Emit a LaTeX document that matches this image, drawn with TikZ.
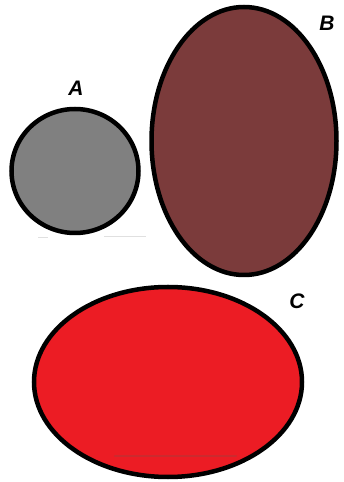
\documentclass[tikz,border=0pt]{standalone}
\usepackage{fontspec}
\setmainfont{Liberation Sans}
\definecolor{agray}{HTML}{808080}
\definecolor{bbrown}{HTML}{7B3B3B}
\definecolor{cred}{HTML}{EC1C24}
\definecolor{cdark}{HTML}{CC2A2E}
\begin{document}
\begin{tikzpicture}[x=1pt,y=1pt,
  blob/.style={draw=black,line width=4.5pt},
  lab/.style={font=\fontsize{21}{21}\selectfont\bfseries\itshape,inner sep=0pt}]
\useasboundingbox[fill=white] (0,0) rectangle (343,482);
% A
\fill[agray,draw=black,line width=4.5pt] (75,311) ellipse [x radius=63.5, y radius=62];
\node[lab] (la) at (76,394) {A};
% B
\fill[bbrown,draw=black,line width=4.5pt] (244,341) ellipse [x radius=92.5, y radius=134];
\node[lab] (lb) at (327,459) {B};
% C
\fill[cred,draw=black,line width=4.5pt] (168,100) ellipse [x radius=134, y radius=95];
\node[lab] (lc) at (297,181) {C};
% faint marks
\draw[black!12,line width=1pt] (38,244) -- (48,244) (104,245) -- (146,245);
\draw[cdark,line width=2.5pt,line cap=round] (115,26) -- (236,26);
\end{tikzpicture}
\end{document}
